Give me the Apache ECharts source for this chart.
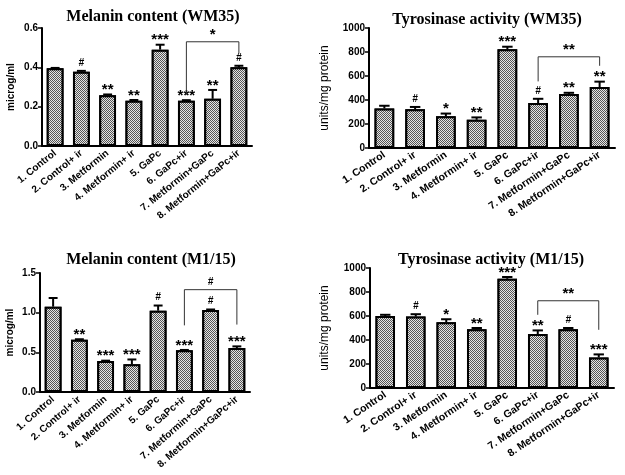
<!DOCTYPE html>
<html>
<head>
<meta charset="utf-8">
<script src="https://cdn.jsdelivr.net/npm/echarts@6/dist/echarts.min.js"></script>
<style>html,body{margin:0;padding:0;background:#fff}#c{width:625px;height:475px}</style>
</head>
<body>
<div id="c"></div>
<script>
var categories = ['1. Control','2. Control+ ir','3. Metformin','4. Metformin+ ir','5. GaPc','6. GaPc+ir','7. Metformin+GaPc','8. Metformin+GaPc+ir'];

var melaninWM35 = [0.395,0.378,0.258,0.230,0.490,0.230,0.240,0.400];
var melaninWM35Err = [0.002,0.004,0.004,0.004,0.025,0.003,0.045,0.008];
var melaninWM35Sig = ['','#','**','**','***','***','**','#'];
var melaninWM35Bracket = [5,7,0.53,0.26,0.47];
var melaninWM35BracketSig = '*';

var tyrWM35 = [330,322,265,235,822,375,450,508];
var tyrWM35Err = [22,20,22,20,22,35,10,45];
var tyrWM35Sig = ['','#','*','**','***','#','**','**'];
var tyrWM35Bracket = [5,7,760,555,685];
var tyrWM35BracketSig = '**';

var melaninM115 = [1.075,0.66,0.39,0.35,1.025,0.525,1.035,0.555];
var melaninM115Err = [0.11,0.005,0.005,0.06,0.065,0.005,0.005,0.02];
var melaninM115Sig = ['','**','***','***','#','***','#','***'];
var melaninM115Bracket = [5,7,1.29,0.84,0.85];
var melaninM115BracketSig = '#';

var tyrM115 = [600,595,548,490,910,450,490,255];
var tyrM115Err = [10,20,25,10,15,30,10,25];
var tyrM115Sig = ['','#','*','**','***','**','#','***'];
var tyrM115Bracket = [5,7,727,610,485];
var tyrM115BracketSig = '**';

var titles = ['Melanin content (WM35)','Tyrosinase activity (WM35)','Melanin content (M1/15)','Tyrosinase activity (M1/15)'];
var yNames = ['microg/ml','units/mg protein','microg/ml','units/mg protein'];
var yMax = [0.6,1000,1.5,1000];
var yInterval = [0.2,200,0.5,200];

var panels = [
  {v: melaninWM35, e: melaninWM35Err, s: melaninWM35Sig, b: melaninWM35Bracket, bs: melaninWM35BracketSig},
  {v: tyrWM35, e: tyrWM35Err, s: tyrWM35Sig, b: tyrWM35Bracket, bs: tyrWM35BracketSig},
  {v: melaninM115, e: melaninM115Err, s: melaninM115Sig, b: melaninM115Bracket, bs: melaninM115BracketSig},
  {v: tyrM115, e: tyrM115Err, s: tyrM115Sig, b: tyrM115Bracket, bs: tyrM115BracketSig}
];

var grids = [
  {left: 42, top: 28, width: 210, height: 118},
  {left: 369, top: 28, width: 246, height: 120},
  {left: 40, top: 273, width: 210, height: 119},
  {left: 370, top: 268, width: 244, height: 120}
];
var titlePos = [[148,4],[482,7],[146,247],[486,247]];
var nameGaps = [26, 38, 25, 39];
var nameSizes = [10, 12, 10, 12];
var labelRotate = [39, 34, 41, 34];
var labelSize = [10, 10.5, 10, 10.5];

function isStar(txt) { return txt.indexOf('*') >= 0; }
function sigText(txt, x, yTop) {
  var star = isStar(txt);
  return {
    type: 'text',
    style: {
      text: txt, x: x, y: yTop + (star ? 4 : -2),
      align: 'center', verticalAlign: 'bottom',
      font: star ? 'bold 15px "Liberation Sans", Arial' : 'italic bold 10px "Liberation Sans", Arial',
      fill: '#000'
    }
  };
}

var decal = {
  symbol: 'rect', symbolSize: 1, color: 'rgba(255,255,255,0.85)',
  dashArrayX: [[1,1],[0,1,1,0]], dashArrayY: [1,0], rotation: 0
};

var option = {
  animation: false,
  backgroundColor: '#fff',
  title: [], grid: [], xAxis: [], yAxis: [], series: []
};

panels.forEach(function (p, i) {
  option.title.push({
    text: titles[i], left: titlePos[i][0], top: titlePos[i][1], textAlign: 'center',
    textStyle: {fontFamily: '"Liberation Serif", "Times New Roman", serif', fontWeight: 'bold', fontSize: 16, color: '#000'}
  });
  option.grid.push(grids[i]);
  option.xAxis.push({
    type: 'category', gridIndex: i, data: categories,
    axisLine: {lineStyle: {color: '#000', width: 2}},
    axisTick: {alignWithLabel: true, length: 4, lineStyle: {color: '#000', width: 1.5}},
    axisLabel: {interval: 0, rotate: labelRotate[i], fontSize: labelSize[i], fontWeight: 'bold', color: '#000', fontFamily: '"Liberation Sans", Arial', margin: 6}
  });
  var dec = yInterval[i] < 1 ? 1 : 0;
  option.yAxis.push({
    type: 'value', gridIndex: i, min: 0, max: yMax[i], interval: yInterval[i],
    name: yNames[i], nameLocation: 'middle', nameGap: nameGaps[i],
    nameTextStyle: {fontSize: nameSizes[i], fontWeight: i % 2 === 0 ? 'bold' : 'normal', color: '#000', fontFamily: '"Liberation Sans", Arial'},
    splitLine: {show: false},
    axisLine: {show: true, lineStyle: {color: '#000', width: 2}},
    axisTick: {show: true, length: 4, lineStyle: {color: '#000', width: 1.5}},
    axisLabel: {fontSize: 10, fontWeight: 'bold', color: '#000', fontFamily: '"Liberation Sans", Arial', margin: 4,
      formatter: function (val) { return val.toFixed(dec); }}
  });
  option.series.push({
    type: 'bar', xAxisIndex: i, yAxisIndex: i, data: p.v, barWidth: '64%',
    itemStyle: {color: '#555', borderColor: '#000', borderWidth: 2, decal: decal}
  });
  var errData = p.v.map(function (v, k) { return [k, v, p.e[k]]; });
  option.series.push({
    type: 'custom', xAxisIndex: i, yAxisIndex: i, data: errData, z: 5,
    renderItem: function (params, api) {
      var k = api.value(0), v = api.value(1), e = api.value(2);
      var base = api.coord([k, v]);
      var top = api.coord([k, v + e]);
      var bw = api.size([1, 0])[0];
      var half = bw * 0.17;
      var children = [
        {type: 'line', shape: {x1: base[0], y1: base[1], x2: top[0], y2: top[1]}, style: {stroke: '#000', lineWidth: 2}},
        {type: 'line', shape: {x1: top[0] - half, y1: top[1], x2: top[0] + half, y2: top[1]}, style: {stroke: '#000', lineWidth: 2}}
      ];
      var txt = p.s[k];
      if (txt) children.push(sigText(txt, top[0], top[1] - 1));
      return {type: 'group', children: children};
    }
  });
  option.series.push({
    type: 'custom', xAxisIndex: i, yAxisIndex: i, data: [p.b], z: 6,
    renderItem: function (params, api) {
      var a = api.coord([api.value(0), api.value(2)]);
      var b = api.coord([api.value(1), api.value(2)]);
      var la = api.coord([api.value(0), api.value(3)]);
      var rb = api.coord([api.value(1), api.value(4)]);
      return {type: 'group', children: [
        {type: 'polyline', shape: {points: [la, a, b, rb]}, style: {stroke: '#333', lineWidth: 1, fill: null}},
        sigText(p.bs, (a[0] + b[0]) / 2, a[1] - (isStar(p.bs) ? 3 : 0))
      ]};
    }
  });
});

var chart = echarts.init(document.getElementById('c'), null, {renderer: 'canvas'});
chart.setOption(option);
</script>
</body>
</html>
